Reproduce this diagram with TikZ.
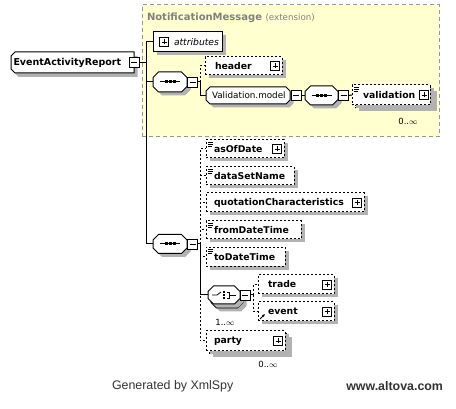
\documentclass[tikz,border=0pt]{standalone}
\usepackage{fontspec}
\setmainfont{DejaVu Sans}
\newfontfamily\footfont{Liberation Sans}
\usetikzlibrary{shadows,arrows.meta}
\definecolor{shadowgray}{RGB}{178,178,178}
\definecolor{extyellow}{RGB}{255,255,208}
\definecolor{extborder}{RGB}{150,150,150}
\definecolor{titlegray}{RGB}{128,128,128}
\definecolor{footgray}{RGB}{50,50,50}
% octagon path: cx cy halfwidth halfheight chamfer offset
\newcommand\octp[6]{({#1-#3+#5+#6},{#2-#4+#6}) -- ({#1+#3-#5+#6},{#2-#4+#6}) -- ({#1+#3+#6},{#2-#4+#5+#6}) -- ({#1+#3+#6},{#2+#4-#5+#6}) -- ({#1+#3-#5+#6},{#2+#4+#6}) -- ({#1-#3+#5+#6},{#2+#4+#6}) -- ({#1-#3+#6},{#2+#4-#5+#6}) -- ({#1-#3+#6},{#2-#4+#5+#6}) -- cycle}
\newcommand\octo[5]{\fill[shadowgray] \octp{#1}{#2}{#3}{#4}{#5}{3.5}; \filldraw[fill=white] \octp{#1}{#2}{#3}{#4}{#5}{0};}
\newcommand\eqicon[1]{\draw[line width=0.6pt] ([xshift=2pt,yshift=-2pt]#1.north west) -- ++(5,0) ([xshift=2pt,yshift=-4pt]#1.north west) -- ++(5,0) ([xshift=2pt,yshift=-6pt]#1.north west) -- ++(4,0);}
\newcommand\seqsym[1]{\draw ([xshift=-10pt]#1.center) -- ([xshift=10pt]#1.center);
  \foreach \d in {-4,0,4}{\fill ([xshift=\d pt]#1.center) +(-1.5,-1.5) rectangle +(1.5,1.5);}}
\begin{document}
\begin{tikzpicture}[x=1pt,y=-1pt,line width=1pt,
  every node/.style={inner sep=0pt, outer sep=0pt},
  sh/.style={general shadow={fill=shadowgray, shadow xshift=3.5pt, shadow yshift=-3.5pt}},
  elfont/.style={font=\fontsize{9.3}{11}\selectfont\bfseries},
  elbox/.style={rectangle, draw, fill=white, sh, anchor=west, align=left, inner xsep=8pt, elfont},
  opt/.style={dash pattern=on 2pt off 2pt},
  hold/.style={rectangle, draw=none},
  pbox/.style={rectangle, draw, fill=white, line width=0.8pt, minimum width=9pt, minimum height=9pt,
     path picture={\draw[line width=0.8pt] ([xshift=2pt]path picture bounding box.west) -- ([xshift=-2pt]path picture bounding box.east);
       \draw[line width=0.8pt] ([yshift=-2pt]path picture bounding box.north) -- ([yshift=2pt]path picture bounding box.south);}},
  mbox/.style={rectangle, draw, fill=white, line width=0.8pt, minimum width=10pt, minimum height=10pt,
     path picture={\draw[line width=0.8pt] ([xshift=2pt]path picture bounding box.west) -- ([xshift=-2pt]path picture bounding box.east);}},
  mult/.style={font=\fontsize{8.5}{10}\selectfont}
]
\useasboundingbox (0,0) rectangle (456,409);

% extension area
\node[draw=extborder, dash pattern=on 4pt off 3pt, fill=extyellow, minimum width=297pt, minimum height=132pt, anchor=north west] (ext) at (142,5) {};
\node[anchor=base west, text=titlegray] (exttitle) at (147,21) {\fontsize{10}{12}\selectfont\bfseries NotificationMessage \fontsize{8.7}{10}\selectfont\mdseries(extension)};

% root element
\fill[shadowgray] (18.5,56) -- (137.5,56) -- (137.5,77) -- (18.5,77) -- (14.5,73) -- (14.5,60) -- cycle;
\filldraw[fill=white] (15,52) -- (134,52) -- (134,73) -- (15,73) -- (11,69) -- (11,56) -- cycle;
\node[hold, font=\fontsize{9.5}{11}\selectfont\bfseries, minimum width=123pt, minimum height=21pt, anchor=west, align=left, text width=118pt, inner xsep=2.5pt] (ear) at (11,62.5) {EventActivityReport};
\node[mbox] (earm) at (134,62.5) {};
\coordinate (t1) at (146,62.5);

% attributes
\node[elbox, minimum width=69pt, minimum height=20pt, text width=55pt, inner xsep=7pt, font=\fontsize{9.2}{11}\selectfont\itshape] (attr) at (153,42) {\mbox{\hspace*{14pt}attributes}};
\node[pbox] (attrp) at (164,42) {};

% upper sequence
\octo{170}{82}{17}{10}{5.5}
\node[hold, minimum width=34pt, minimum height=20pt] (seq1) at (170,82) {};
\seqsym{seq1}
\node[mbox] (seq1m) at (192.5,82) {};
\coordinate (t2) at (200,82);

\node[elbox, opt, minimum width=77pt, minimum height=18pt, text width=57pt, inner xsep=10pt] (header) at (205,66) {header};
\node[pbox] (headerp) at (275,66) {};

\octo{248}{95.5}{42}{8.5}{4}
\node[hold, minimum width=84pt, minimum height=17pt, anchor=west, align=left, text width=72pt, inner xsep=6pt, font=\fontsize{8.8}{10}\selectfont] (valm) at (206,95.5) {Validation.model};
\node[mbox] (valmm) at (296,95.5) {};

\octo{321.5}{95.5}{16.5}{9.5}{5.5}
\node[hold, minimum width=33pt, minimum height=19pt] (seq3) at (321.5,95.5) {};
\seqsym{seq3}
\node[mbox] (seq3m) at (343.5,95.5) {};

\node[rectangle, draw, fill=white, opt, sh, minimum width=78pt, minimum height=20pt, anchor=west] (validb) at (355,98) {};
\node[elbox, opt, general shadow={}, minimum width=78pt, minimum height=20pt, text width=56pt, inner xsep=11pt] (valid) at (352,95) {validation};
\eqicon{valid}
\node[pbox] (validp) at (424,95) {};
\node[mult] (validmult) at (408,121) {0..$\infty$};

% lower sequence
\octo{170}{244}{17}{9.5}{5.5}
\node[hold, minimum width=34pt, minimum height=19pt] (seq2) at (170,244) {};
\seqsym{seq2}
\node[mbox] (seq2m) at (192.5,244) {};
\coordinate (t3) at (200,244);

\node[elbox, opt, minimum width=78pt, minimum height=18pt, text width=62pt] (asof) at (206,149) {asOfDate};
\eqicon{asof}
\node[pbox] (asofp) at (277,149) {};

\node[elbox, opt, minimum width=88pt, minimum height=18pt, text width=72pt] (dsn) at (206,176) {dataSetName};
\eqicon{dsn}

\node[elbox, opt, minimum width=158pt, minimum height=19pt, text width=142pt] (qc) at (206,202.5) {quotationCharacteristics};
\node[pbox] (qcp) at (357,202.5) {};

\node[elbox, opt, minimum width=95pt, minimum height=18pt, text width=79pt] (fdt) at (206,230) {fromDateTime};
\eqicon{fdt}

\node[elbox, opt, minimum width=79pt, minimum height=19pt, text width=63pt] (tdt) at (206,257) {toDateTime};
\eqicon{tdt}

% choice
\octo{227}{299}{16}{9}{5.5}
\octo{224}{295}{16}{9}{5.5}
\node[hold, minimum width=32pt, minimum height=18pt] (choice) at (224,295) {};
\draw[line width=0.8pt] ([xshift=-12pt]choice.center) -- ([xshift=-7pt]choice.center) -- ([xshift=-3pt,yshift=3pt]choice.center);
\foreach \d in {-3,0,3}{\fill ([yshift=\d pt]choice.center) +(-1.2,-1.2) rectangle +(1.2,1.2);}
\draw[line width=0.8pt] ([xshift=3pt,yshift=3pt]choice.center) -- ([xshift=5pt,yshift=3pt]choice.center) -- ([xshift=5pt,yshift=-3pt]choice.center) -- ([xshift=3pt,yshift=-3pt]choice.center)
  ([xshift=5pt]choice.center) -- ([xshift=12pt]choice.center);
\node[mbox] (choicem) at (245,295) {};
\coordinate (t4) at (253,295);
\node[mult] (choicemult) at (225,322) {1..$\infty$};

\node[elbox, opt, minimum width=76pt, minimum height=19pt, text width=56pt, inner xsep=10pt] (trade) at (258,284.5) {trade};
\node[pbox] (tradep) at (327,284.5) {};
\node[elbox, opt, minimum width=76pt, minimum height=19pt, text width=56pt, inner xsep=10pt] (event) at (258,311.5) {event};
\node[pbox] (eventp) at (327,311.5) {};
\draw[line width=0.8pt, -{Latex[length=3pt,width=3pt]}] ([xshift=2pt,yshift=2pt]event.south west) -- ++(5,-5);

\node[rectangle, draw, fill=white, opt, sh, minimum width=79pt, minimum height=20pt, anchor=west] (partyb) at (209,344) {};
\node[elbox, opt, general shadow={}, minimum width=79pt, minimum height=20pt, text width=63pt] (party) at (206,341) {party};
\node[pbox] (partyp) at (278,341) {};
\node[mult] (partymult) at (268,364) {0..$\infty$};

% connectors
\draw (earm.east) -- (t1);
\draw (t1) |- (attr.west);
\draw (t1) |- (seq1.west);
\draw (t1) |- (seq2.west);
\draw (seq1m.east) -- (t2);
\draw[opt] (t2) |- (header.west);
\draw (t2) |- (valm.west);
\draw (valmm.east) -- (seq3.west);
\draw (seq3m.east) -- (valid.west);
\draw (seq2m.east) -- (t3);
\draw[opt] (t3) |- (asof.west);
\draw[opt] (t3) |- (dsn.west);
\draw[opt] (t3) |- (qc.west);
\draw[opt] (t3) |- (fdt.west);
\draw[opt] (t3) |- (tdt.west);
\draw (t3) |- (choice.west);
\draw[opt] (t3) |- (party.west);
\draw (choicem.east) -- (t4);
\draw[opt] (t4) |- (trade.west);
\draw[opt] (t4) |- (event.west);

% footer
\node[anchor=west, text=footgray, font=\footfont\fontsize{12.4}{14}\selectfont] (gen) at (112,386) {Generated by XmlSpy};
\node[anchor=east, text=footgray, font=\footfont\fontsize{12.4}{14}\selectfont\bfseries] (alt) at (443,386) {www.altova.com};
\end{tikzpicture}
\end{document}
